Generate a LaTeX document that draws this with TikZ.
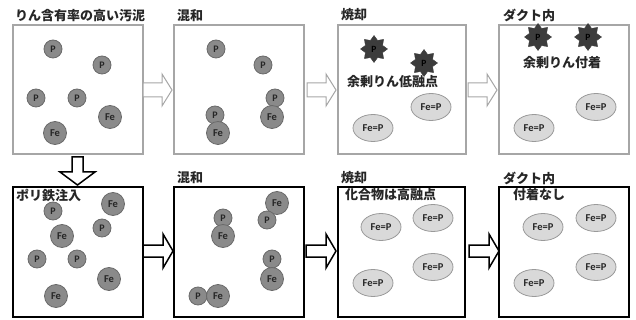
\documentclass[tikz,border=0pt]{standalone}
\usepackage{fontspec}
\setmainfont{Carlito}
\newfontfamily\jp{Noto Sans CJK JP}
\usetikzlibrary{shapes.geometric}
\definecolor{pfill}{HTML}{8A8A8A}
\definecolor{pline}{HTML}{6A6A6A}
\definecolor{efill}{HTML}{D9D9D9}
\definecolor{eline}{HTML}{9A9A9A}
\definecolor{sfill}{HTML}{3C3C3C}
\definecolor{tbox}{HTML}{A6A6A6}
\tikzset{
  pnode/.style={circle,fill=pfill,draw=pline,line width=0.8pt,minimum size=18pt,inner sep=0pt,font=\bfseries\fontsize{10}{10}\selectfont,text=black!85},
  fenode/.style={circle,fill=pfill,draw=pline,line width=0.8pt,minimum size=23pt,inner sep=0pt,font=\bfseries\fontsize{10.5}{10.5}\selectfont,text=black!85},
  fepnode/.style={ellipse,fill=efill,draw=eline,line width=0.8pt,minimum width=40pt,minimum height=27pt,inner sep=0pt,font=\bfseries\fontsize{10.5}{10.5}\selectfont,text=black!85},
  starnode/.style={star,star points=8,star point ratio=1.45,fill=sfill,draw=sfill,minimum size=27pt,inner sep=0pt,font=\bfseries\fontsize{9.5}{9.5}\selectfont},
  topbox/.style={draw=tbox,line width=1.1pt},
  botbox/.style={draw=black,line width=1.8pt},
  title/.style={anchor=west,inner sep=0pt,font=\jp\bfseries\fontsize{13}{13}\selectfont,text=black!85},
  label/.style={anchor=west,inner sep=0pt,font=\jp\bfseries\fontsize{13}{13}\selectfont,text=black!85},
  toparrow/.style={draw=tbox,line width=1pt,fill=white,line join=miter},
  botarrow/.style={draw=black,line width=1.5pt,fill=white,line join=miter},
}
\begin{document}
\begin{tikzpicture}[x=1pt,y=-1pt]
\useasboundingbox (0,0) rectangle (636,320);
% ---------- boxes ----------
\draw[topbox] (13,25) rectangle (143,154);
\draw[topbox] (174,25) rectangle (304,154);
\draw[topbox] (338,25) rectangle (466,154);
\draw[topbox] (499,25) rectangle (629,154);
\draw[botbox] (13,187) rectangle (143,317);
\draw[botbox] (174,187) rectangle (304,317);
\draw[botbox] (338,187) rectangle (465,317);
\draw[botbox] (499,187) rectangle (629,317);
% ---------- titles ----------
\node[title] (t1) at (15,16) {りん含有率の高い汚泥};
\node[title] (t2) at (177,16) {混和};
\node[title] (t3) at (341,15) {焼却};
\node[title] (t4) at (503,15) {ダクト内};
\node[title] (t5) at (177,178) {混和};
\node[title] (t6) at (341,178) {焼却};
\node[title] (t7) at (503,178) {ダクト内};
\node[label] (l1) at (16,195) {ポリ鉄注入};
\node[label] (l2) at (345,195) {化合物は高融点};
\node[label] (l3) at (513,195) {付着なし};
\node[label] (l4) at (347,82) {余剰りん低融点};
\node[label] (l5) at (523,63) {余剰りん付着};
% ---------- arrows ----------
\foreach \x in {143,307,468}{
  \draw[toparrow] (\x,83) -- ++(19,0) -- ++(0,-9) -- ++(10,16) -- ++(-10,16) -- ++(0,-9) -- ++(-19,0) -- cycle;
}
\foreach \x in {143,306,469}{
  \draw[botarrow] (\x,245) -- ++(20,0) -- ++(0,-11) -- ++(10,17) -- ++(-10,17) -- ++(0,-11) -- ++(-20,0) -- cycle;
}
\draw[botarrow] (72,157) -- (83,157) -- (83,172) -- (95,172) -- (77.5,185) -- (60,172) -- (72,172) -- cycle;
% ---------- top box 1 ----------
\node[pnode] (p11) at (53,49) {P};
\node[pnode] (p12) at (102,65) {P};
\node[pnode] (p13) at (36,98) {P};
\node[pnode] (p14) at (77,98) {P};
\node[fenode] (f11) at (110,117) {Fe};
\node[fenode] (f12) at (55,133) {Fe};
% ---------- top box 2 ----------
\node[pnode] (p21) at (216,49) {P};
\node[pnode] (p22) at (263,65) {P};
\node[pnode] (p23) at (275,98) {P};
\node[fenode] (f21) at (272,117) {Fe};
\node[pnode] (p24) at (215,115) {P};
\node[fenode] (f22) at (218,133) {Fe};
% ---------- top box 3 ----------
\node[starnode] (s31) at (374,49) {P};
\node[starnode] (s32) at (424,63) {P};
\node[fepnode] (e31) at (431,107) {Fe=P};
\node[fepnode] (e32) at (373,128) {Fe=P};
% ---------- top box 4 ----------
\node[starnode] (s41) at (538,37) {P};
\node[starnode] (s42) at (588,37) {P};
\node[fepnode] (e41) at (596,107) {Fe=P};
\node[fepnode] (e42) at (534,128) {Fe=P};
% ---------- bottom box 1 ----------
\node[pnode] (q11) at (53,211) {P};
\node[fenode] (g11) at (113,204) {Fe};
\node[fenode] (g12) at (62,236) {Fe};
\node[pnode] (q12) at (102,228) {P};
\node[pnode] (q13) at (37,259) {P};
\node[pnode] (q14) at (77,259) {P};
\node[fenode] (g13) at (109,279) {Fe};
\node[fenode] (g14) at (56,296) {Fe};
% ---------- bottom box 2 ----------
\node[pnode] (q21) at (223,218) {P};
\node[fenode] (g21) at (223,236) {Fe};
\node[fenode] (g22) at (277,203) {Fe};
\node[pnode] (q22) at (267,220) {P};
\node[pnode] (q23) at (272,259) {P};
\node[fenode] (g23) at (272,279) {Fe};
\node[pnode] (q24) at (198,296) {P};
\node[fenode] (g24) at (218,296) {Fe};
% ---------- bottom box 3 ----------
\node[fepnode] (e51) at (381,227) {Fe=P};
\node[fepnode] (e52) at (433,218) {Fe=P};
\node[fepnode] (e53) at (433,267) {Fe=P};
\node[fepnode] (e54) at (373,283) {Fe=P};
% ---------- bottom box 4 ----------
\node[fepnode] (e61) at (543,227) {Fe=P};
\node[fepnode] (e62) at (596,218) {Fe=P};
\node[fepnode] (e63) at (596,267) {Fe=P};
\node[fepnode] (e64) at (534,283) {Fe=P};
\end{tikzpicture}
\end{document}
